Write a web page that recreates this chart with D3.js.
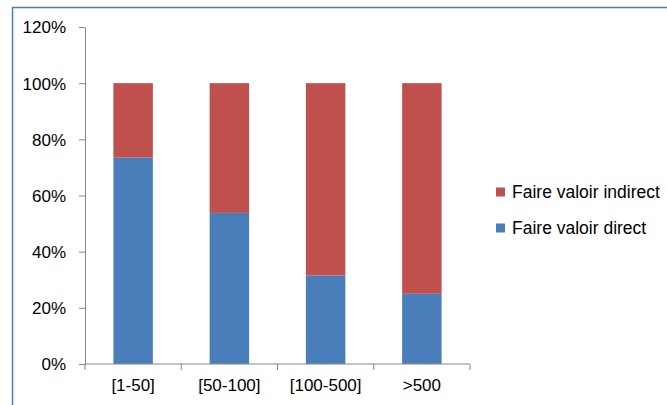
<!DOCTYPE html>
<html>
<head>
<meta charset="utf-8">
<script src="https://cdn.jsdelivr.net/npm/d3@7"></script>
<style>
  body { margin: 0; background: #fff; }
  text { font-family: "Liberation Sans", Arial, sans-serif; fill: #000; }
</style>
</head>
<body>
<div id="chart"></div>
<script>
// chart data
var categories = ['[1-50]', '[50-100]', '[100-500]', '>500'];
var direct = [73.5, 53.8, 31.5, 25];
var indirect = [26.5, 46.2, 68.5, 75];
var seriesNames = ['Faire valoir direct', 'Faire valoir indirect'];
var seriesColors = ['#4a7ebb', '#c0504d'];
var yTicks = [0, 20, 40, 60, 80, 100, 120];

var W = 667, H = 405;
var margin = { left: 85, top: 27, right: 197, bottom: 41 };

var svg = d3.select('#chart').append('svg')
	.attr('width', W).attr('height', H);

// outer frame (only top and left edges are visible)
svg.append('path')
	.attr('d', 'M12.5,' + H + ' L12.5,7.5 L' + W + ',7.5')
	.attr('fill', 'none')
	.attr('stroke', '#4a7ebb')
	.attr('stroke-width', 1.5);

var x = d3.scaleBand()
	.domain(categories)
	.range([margin.left, W - margin.right])
	.paddingInner(0.59)
	.paddingOuter(0.295);

var y = d3.scaleLinear()
	.domain([0, 120])
	.range([H - margin.bottom, margin.top]);

var rows = categories.map(function(c, i) {
	return { cat: c, direct: direct[i], indirect: indirect[i] };
});
var stack = d3.stack().keys(['direct', 'indirect']);
var layers = stack(rows);

svg.selectAll('g.layer')
	.data(layers)
	.enter().append('g')
	.attr('class', 'layer')
	.attr('fill', function(d, i) { return seriesColors[i]; })
	.selectAll('rect')
	.data(function(d) { return d; })
	.enter().append('rect')
	.attr('x', function(d) { return x(d.data.cat); })
	.attr('width', x.bandwidth())
	.attr('y', function(d) { return y(d[1]); })
	.attr('height', function(d) { return y(d[0]) - y(d[1]); });

// y axis
var yAxis = svg.append('g')
	.attr('transform', 'translate(' + margin.left + ',0)')
	.call(d3.axisLeft(y).tickValues(yTicks).tickSize(6).tickSizeOuter(0)
		.tickFormat(function(d) { return d + '%'; }));
yAxis.selectAll('text').attr('font-size', 17).attr('x', -19).attr('dy', '0.35em');
yAxis.selectAll('line, path').attr('stroke', '#868686');

// x axis with boundary ticks
var xAxis = svg.append('g')
	.attr('transform', 'translate(0,' + (H - margin.bottom) + ')');
xAxis.append('line')
	.attr('x1', margin.left).attr('x2', W - margin.right)
	.attr('stroke', '#868686');
var bounds = d3.range(categories.length + 1).map(function(i) {
	return margin.left + i * (W - margin.right - margin.left) / categories.length;
});
xAxis.selectAll('line.tick')
	.data(bounds).enter().append('line')
	.attr('class', 'tick')
	.attr('x1', function(d) { return d; }).attr('x2', function(d) { return d; })
	.attr('y1', 0).attr('y2', 6)
	.attr('stroke', '#868686');
xAxis.selectAll('text')
	.data(categories).enter().append('text')
	.attr('x', function(d) { return x(d) + x.bandwidth() / 2; })
	.attr('y', 27)
	.attr('text-anchor', 'middle')
	.attr('font-size', 17)
	.text(function(d) { return d; });

// legend (indirect on top)
var legend = svg.append('g');
var legendOrder = [1, 0];
legendOrder.forEach(function(si, k) {
	var ly = 192 + k * 36;
	legend.append('rect')
		.attr('x', 496).attr('y', ly - 4.5)
		.attr('width', 9).attr('height', 9)
		.attr('fill', seriesColors[si]);
	legend.append('text')
		.attr('x', 512).attr('y', ly)
		.attr('dy', '0.35em')
		.attr('font-size', 17.5)
		.text(seriesNames[si]);
});
</script>
</body>
</html>
